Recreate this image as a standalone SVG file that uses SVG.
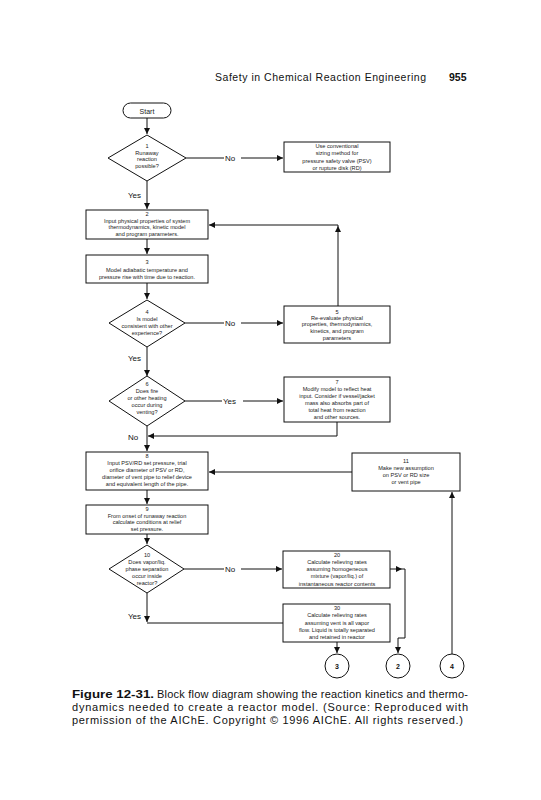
<svg xmlns="http://www.w3.org/2000/svg" width="541" height="800" viewBox="0 0 541 800">
<defs>
<style>
.t{font-family:"Liberation Sans",Arial,sans-serif;font-size:5.6px;fill:#222;text-anchor:middle}
.lb{font-family:"Liberation Sans",Arial,sans-serif;font-size:8px;fill:#111}
.box{fill:#fff;stroke:#111;stroke-width:1}
.ln{fill:none;stroke:#111;stroke-width:1}
.hd{font-family:"Liberation Sans",Arial,sans-serif;font-size:10.5px;fill:#111}
.cap{font-family:"Liberation Sans",Arial,sans-serif;font-size:11px;fill:#111}
.cn{font-family:"Liberation Sans",Arial,sans-serif;font-size:7px;font-weight:bold;fill:#111;text-anchor:middle}
</style>
<marker id="ah" markerUnits="userSpaceOnUse" markerWidth="7" markerHeight="6" refX="6" refY="3" orient="auto">
<path d="M0,0 L6,3 L0,6 Z" fill="#111"/>
</marker>
</defs>
<rect width="541" height="800" fill="#fff"/>

<g id="header">
<text class="hd" x="215" y="81" textLength="211" lengthAdjust="spacing">Safety in Chemical Reaction Engineering</text>
<text class="hd" x="449" y="81" font-weight="bold">955</text>
</g>

<g id="connectors">
<path class="ln" d="M147,118 V134" marker-end="url(#ah)"/>
<path class="ln" d="M186,158 H224"/>
<path class="ln" d="M241,158 H283" marker-end="url(#ah)"/>
<path class="ln" d="M147,181 V209" marker-end="url(#ah)"/>
<path class="ln" d="M147,239 V254" marker-end="url(#ah)"/>
<path class="ln" d="M147,283 V299" marker-end="url(#ah)"/>
<path class="ln" d="M185,323 H224"/>
<path class="ln" d="M241,323 H283" marker-end="url(#ah)"/>
<path class="ln" d="M147,347 V376" marker-end="url(#ah)"/>
<path class="ln" d="M338,306 V225 H209" marker-end="url(#ah)"/>
<path d="M338,226 L341,232 L335,232 Z" fill="#111"/>
<path class="ln" d="M185,401 H222"/>
<path class="ln" d="M243,401 H283" marker-end="url(#ah)"/>
<path class="ln" d="M337,422 V436 H148" marker-end="url(#ah)"/>
<path class="ln" d="M147,426 V451" marker-end="url(#ah)"/>
<path class="ln" d="M352,472 H209" marker-end="url(#ah)"/>
<path class="ln" d="M147,490 V504" marker-end="url(#ah)"/>
<path class="ln" d="M147,534 V544" marker-end="url(#ah)"/>
<path class="ln" d="M184,569 H224"/>
<path class="ln" d="M241,569 H282" marker-end="url(#ah)"/>
<path class="ln" d="M147,593 V622" marker-end="url(#ah)"/>
<path class="ln" d="M147,623 H283"/>
<path class="ln" d="M390,569 H402" marker-end="url(#ah)"/>
<path class="ln" d="M402,569 H405 V638 H398 V653" marker-end="url(#ah)"/>
<path class="ln" d="M337,642 V653" marker-end="url(#ah)"/>
<path class="ln" d="M452,654 V492" marker-end="url(#ah)"/>
</g>

<g id="labels">
<text class="lb" x="225" y="161">No</text>
<text class="lb" x="128" y="198">Yes</text>
<text class="lb" x="225" y="326">No</text>
<text class="lb" x="128" y="361">Yes</text>
<text class="lb" x="223" y="404">Yes</text>
<text class="lb" x="128" y="440">No</text>
<text class="lb" x="225" y="572">No</text>
<text class="lb" x="128" y="619">Yes</text>
</g>

<g id="start">
<rect class="box" x="123" y="103" width="48" height="15" rx="7.5"/>
<text class="t" x="147" y="113.5" style="font-size:7px">Start</text>
</g>

<g id="node1">
<polygon class="box" points="147,135 186,158 147,181 108,158"/>
<text class="t" x="147" y="148">1</text>
<text class="t" x="147" y="155">Runaway</text>
<text class="t" x="147" y="161">reaction</text>
<text class="t" x="147" y="168">possible?</text>
</g>

<g id="conventional">
<rect class="box" x="284" y="142" width="106" height="30"/>
<text class="t" x="337" y="148">Use conventional</text>
<text class="t" x="337" y="155">sizing method for</text>
<text class="t" x="337" y="163">pressure safety valve (PSV)</text>
<text class="t" x="337" y="170">or rupture disk (RD)</text>
</g>

<g id="node2">
<rect class="box" x="86" y="210" width="122" height="29"/>
<text class="t" x="147" y="216">2</text>
<text class="t" x="147" y="223">Input physical properties of system</text>
<text class="t" x="147" y="229">thermodynamics, kinetic model</text>
<text class="t" x="147" y="236">and program parameters.</text>
</g>

<g id="node3">
<rect class="box" x="86" y="255" width="122" height="28"/>
<text class="t" x="147" y="264">3</text>
<text class="t" x="147" y="272">Model adiabatic temperature and</text>
<text class="t" x="147" y="279">pressure rise with time due to reaction.</text>
</g>

<g id="node4">
<polygon class="box" points="147,300 185,323 147,347 109,323"/>
<text class="t" x="147" y="314">4</text>
<text class="t" x="147" y="321">Is model</text>
<text class="t" x="147" y="328">consistent with other</text>
<text class="t" x="147" y="335">experience?</text>
</g>

<g id="node5">
<rect class="box" x="284" y="306" width="106" height="37"/>
<text class="t" x="337" y="314">5</text>
<text class="t" x="337" y="320">Re-evaluate physical</text>
<text class="t" x="337" y="326">properties, thermodynamics,</text>
<text class="t" x="337" y="333">kinetics, and program</text>
<text class="t" x="337" y="340">parameters</text>
</g>

<g id="node6">
<polygon class="box" points="147,376 185,401 147,426 109,401"/>
<text class="t" x="147" y="386">6</text>
<text class="t" x="147" y="393">Does fire</text>
<text class="t" x="147" y="400">or other heating</text>
<text class="t" x="147" y="407">occur during</text>
<text class="t" x="147" y="414">venting?</text>
</g>

<g id="node7">
<rect class="box" x="284" y="377" width="106" height="45"/>
<text class="t" x="337" y="384">7</text>
<text class="t" x="337" y="391">Modify model to reflect heat</text>
<text class="t" x="337" y="398">input. Consider if vessel/jacket</text>
<text class="t" x="337" y="405">mass also absorbs part of</text>
<text class="t" x="337" y="412">total heat from reaction</text>
<text class="t" x="337" y="419">and other sources.</text>
</g>

<g id="node8">
<rect class="box" x="86" y="452" width="122" height="38"/>
<text class="t" x="147" y="458">8</text>
<text class="t" x="147" y="465">Input PSV/RD set pressure, trial</text>
<text class="t" x="147" y="472">orifice diameter of PSV or RD,</text>
<text class="t" x="147" y="479">diameter of vent pipe to relief device</text>
<text class="t" x="147" y="486">and equivalent length of the pipe.</text>
</g>

<g id="node11">
<rect class="box" x="352" y="453" width="108" height="38"/>
<text class="t" x="406" y="463">11</text>
<text class="t" x="406" y="470">Make new assumption</text>
<text class="t" x="406" y="477">on PSV or RD size</text>
<text class="t" x="406" y="484">or vent pipe</text>
</g>

<g id="node9">
<rect class="box" x="86" y="505" width="122" height="29"/>
<text class="t" x="147" y="511">9</text>
<text class="t" x="147" y="518">From onset of runaway reaction</text>
<text class="t" x="147" y="524">calculate conditions at relief</text>
<text class="t" x="147" y="531">set pressure.</text>
</g>

<g id="node10">
<polygon class="box" points="147,545 184,569 147,593 109,569"/>
<text class="t" x="147" y="557">10</text>
<text class="t" x="147" y="564">Does vapor/liq.</text>
<text class="t" x="147" y="571">phase separation</text>
<text class="t" x="147" y="578">occur inside</text>
<text class="t" x="147" y="585">reactor?</text>
</g>

<g id="node20">
<rect class="box" x="283" y="551" width="107" height="37"/>
<text class="t" x="337" y="557">20</text>
<text class="t" x="337" y="564">Calculate relieving rates</text>
<text class="t" x="337" y="571">assuming homogeneous</text>
<text class="t" x="337" y="578">mixture (vapor/liq.) of</text>
<text class="t" x="337" y="586">instantaneous reactor contents</text>
</g>

<g id="node30">
<rect class="box" x="283" y="604" width="107" height="38"/>
<text class="t" x="337" y="610">30</text>
<text class="t" x="337" y="617">Calculate relieving rates</text>
<text class="t" x="337" y="625">assuming vent is all vapor</text>
<text class="t" x="337" y="632">flow. Liquid is totally separated</text>
<text class="t" x="337" y="639">and retained in reactor</text>
</g>

<g id="c3">
<circle class="box" cx="337" cy="666" r="12"/>
<text class="cn" x="337" y="668.5">3</text>
</g>
<g id="c2">
<circle class="box" cx="398" cy="666" r="12"/>
<text class="cn" x="398" y="668.5">2</text>
</g>
<g id="c4">
<circle class="box" cx="452" cy="666" r="12"/>
<text class="cn" x="452" y="668.5">4</text>
</g>

<g id="caption">
<text class="cap" x="72" y="698" font-weight="bold" textLength="82" lengthAdjust="spacingAndGlyphs">Figure 12-31.</text>
<text class="cap" x="157" y="698" textLength="311" lengthAdjust="spacing">Block flow diagram showing the reaction kinetics and thermo-</text>
<text class="cap" x="72" y="711" textLength="396" lengthAdjust="spacing">dynamics needed to create a reactor model. (Source: Reproduced with</text>
<text class="cap" x="72" y="724" textLength="391" lengthAdjust="spacing">permission of the AIChE. Copyright © 1996 AIChE. All rights reserved.)</text>
</g>
</svg>
